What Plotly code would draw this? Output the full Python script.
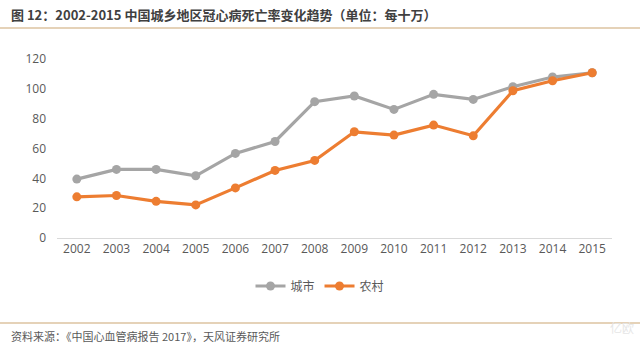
import plotly.graph_objects as go

years = ["2002", "2003", "2004", "2005", "2006", "2007", "2008",
         "2009", "2010", "2011", "2012", "2013", "2014", "2015"]
city = [39.5, 46.0, 46.0, 41.7, 56.7, 64.7, 91.4, 95.2, 86.2, 96.3, 92.9, 101.4, 107.9, 110.8]
rural = [27.6, 28.5, 24.6, 22.2, 33.6, 45.3, 52.0, 71.2, 69.0, 75.7, 68.5, 98.7, 105.4, 110.8]

W, H = 640, 348
L, R, T, B = 57, 28, 59, 110
pw, ph = W - L - R, H - T - B

def px(x):
    return (x - L) / pw

def py(y):
    return (H - B - y) / ph

cjk = "Noto Sans CJK SC"

fig = go.Figure()
fig.add_trace(go.Scatter(x=years, y=city, name="城市", mode="lines+markers",
                         line=dict(color="#A5A5A5", width=3.2),
                         marker=dict(color="#A5A5A5", size=9)))
fig.add_trace(go.Scatter(x=years, y=rural, name="农村", mode="lines+markers",
                         line=dict(color="#ED7D31", width=3.2),
                         marker=dict(color="#ED7D31", size=9)))

fig.update_layout(
    width=W, height=H,
    margin=dict(l=L, r=R, t=T, b=B),
    paper_bgcolor="white", plot_bgcolor="white",
    font=dict(family="Open Sans, " + cjk, color="#595959", size=12),
    xaxis=dict(type="category", range=[-0.5, 13.5], showgrid=False,
               showline=True, linecolor="#D9D9D9", linewidth=1,
               ticks="", tickfont=dict(size=12, color="#595959")),
    yaxis=dict(range=[0, 120], dtick=20, showgrid=False, zeroline=False,
               showline=False, ticks="", tickfont=dict(size=12, color="#595959"),
               ticklabelstandoff=10),
    legend=dict(orientation="h", x=px(320), xanchor="center", y=py(286), yanchor="middle",
                font=dict(family=cjk, size=12, color="#595959"),
                itemwidth=30, tracegroupgap=0),
    showlegend=True,
)

fig.add_annotation(text="<b>图 12：2002-2015 中国城乡地区冠心病死亡率变化趋势（单位：每十万）</b>",
                   xref="paper", yref="paper", x=px(9), y=py(14),
                   xanchor="left", yanchor="middle", showarrow=False,
                   font=dict(family=cjk, size=13, color="#404040"))
fig.add_annotation(text="资料来源：《中国心血管病报告 2017》，天风证券研究所",
                   xref="paper", yref="paper", x=px(9), y=py(336),
                   xanchor="left", yanchor="middle", showarrow=False,
                   font=dict(family=cjk, size=11, color="#595959"))
fig.add_annotation(text="亿欧",
                   xref="paper", yref="paper", x=px(622), y=py(327),
                   xanchor="center", yanchor="middle", showarrow=False,
                   font=dict(family=cjk, size=12, color="#E6E6E6"))

fig.add_shape(type="line", xref="paper", yref="paper",
              x0=px(0), x1=px(640), y0=py(28), y1=py(28),
              line=dict(color="#DCC3A0", width=1.5))
fig.add_shape(type="line", xref="paper", yref="paper",
              x0=px(0), x1=px(640), y0=py(323), y1=py(323),
              line=dict(color="#DCC3A0", width=1.5))

fig.write_html("out.html")
